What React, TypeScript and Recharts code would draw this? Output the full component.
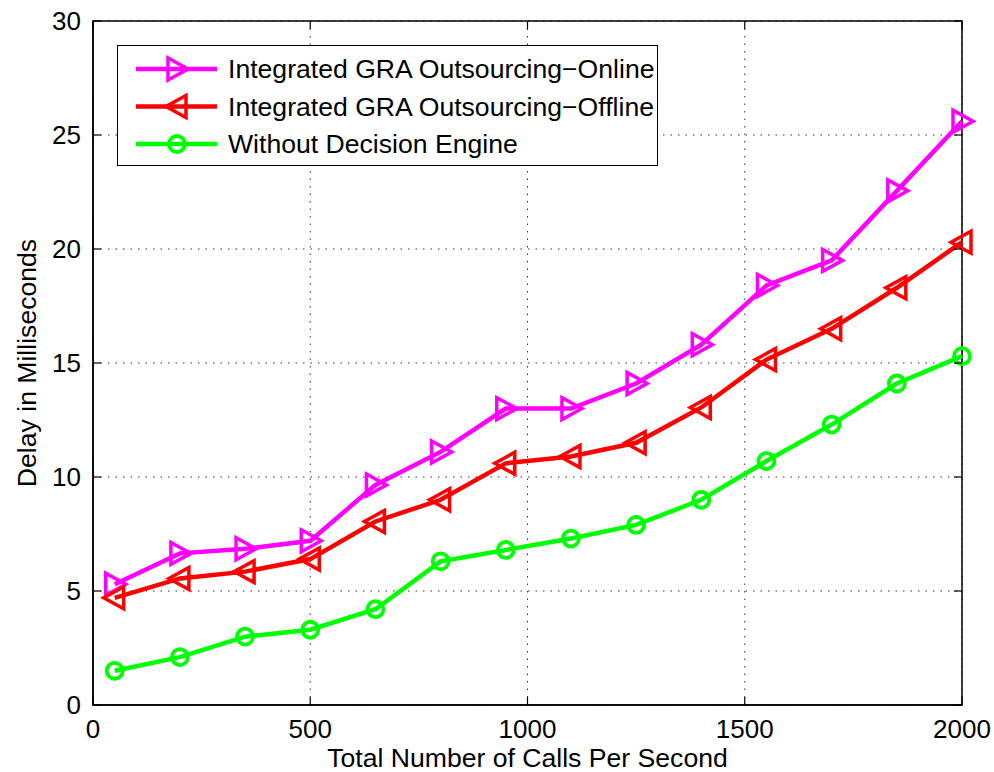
import React from 'react';
import {
  LineChart,
  Line,
  XAxis,
  YAxis,
  CartesianGrid,
  ReferenceArea,
} from 'recharts';

const calls = [50, 200, 350, 500, 650, 800, 950, 1100, 1250, 1400, 1550, 1700, 1850, 2000];
const online = [5.3, 6.65, 6.85, 7.2, 9.65, 11.1, 13.0, 13.0, 14.1, 15.8, 18.4, 19.5, 22.55, 25.6];
const offline = [4.7, 5.55, 5.85, 6.4, 8.05, 9.0, 10.6, 10.9, 11.5, 13.05, 15.15, 16.5, 18.3, 20.3];
const noEngine = [1.5, 2.1, 3.0, 3.3, 4.2, 6.3, 6.8, 7.3, 7.9, 9.0, 10.7, 12.3, 14.1, 15.3];

const xTicks = [0, 500, 1000, 1500, 2000];
const yTicks = [0, 5, 10, 15, 20, 25, 30];

const seriesNames = [
  'Integrated GRA Outsourcing\u2212Online',
  'Integrated GRA Outsourcing\u2212Offline',
  'Without Decision Engine',
];

const data = calls.map((c, i) => ({
  calls: c,
  online: online[i],
  offline: offline[i],
  noEngine: noEngine[i],
}));

const W = 994;
const H = 772;
const LEFT = 93;
const RIGHT = 962;
const TOP = 21;
const BOTTOM = 705;
const FONT = '"Liberation Sans", Arial, Helvetica, sans-serif';
const FS = 26;
const FS_TEXT = 26.6;

const MAGENTA = '#ff00ff';
const RED = '#ff0000';
const GREEN = '#00ff00';

type Shape = 'right' | 'left' | 'circle';

const Marker = ({ cx, cy, shape, color }: { cx: number; cy: number; shape: Shape; color: string }) => {
  if (shape === 'circle') {
    return <circle cx={cx} cy={cy} r={8} fill="none" stroke={color} strokeWidth={3.8} />;
  }
  const pts =
    shape === 'right'
      ? `${cx - 9},${cy - 11} ${cx - 9},${cy + 11} ${cx + 11},${cy}`
      : `${cx + 9},${cy - 11} ${cx + 9},${cy + 11} ${cx - 11},${cy}`;
  return <polygon points={pts} fill="none" stroke={color} strokeWidth={3.5} strokeLinejoin="miter" />;
};

const makeDot = (shape: Shape, color: string) => (props: any) => {
  const { cx, cy, index } = props;
  if (cx == null || cy == null) return <g key={index} />;
  return (
    <g key={index}>
      <Marker cx={cx} cy={cy} shape={shape} color={color} />
    </g>
  );
};

const XTick = (props: any) => {
  const { x, payload } = props;
  return (
    <g>
      <line x1={x} x2={x} y1={BOTTOM} y2={BOTTOM - 8} stroke="#000" strokeWidth={1.2} />
      <line x1={x} x2={x} y1={TOP} y2={TOP + 8} stroke="#000" strokeWidth={1.2} />
      <text x={x} y={738} textAnchor="middle" fontFamily={FONT} fontSize={FS} fill="#000">
        {payload.value}
      </text>
    </g>
  );
};

const YTick = (props: any) => {
  const { y, payload } = props;
  return (
    <g>
      <line x1={LEFT} x2={LEFT + 8} y1={y} y2={y} stroke="#000" strokeWidth={1.2} />
      <line x1={RIGHT} x2={RIGHT - 8} y1={y} y2={y} stroke="#000" strokeWidth={1.2} />
      <text x={81} y={y + 9} textAnchor="end" fontFamily={FONT} fontSize={FS} fill="#000">
        {payload.value}
      </text>
    </g>
  );
};

const legendItems: { name: string; shape: Shape; color: string }[] = [
  { name: seriesNames[0], shape: 'right', color: MAGENTA },
  { name: seriesNames[1], shape: 'left', color: RED },
  { name: seriesNames[2], shape: 'circle', color: GREEN },
];

const LegendBox = () => (
  <div
    style={{
      position: 'absolute',
      left: 117,
      top: 45,
      width: 539,
      height: 119,
      border: '1.5px solid #000',
      background: '#fff',
    }}
  >
    <svg width={539} height={119} style={{ display: 'block' }}>
      {legendItems.map((it, i) => {
        const cy = 23 + i * 37.5;
        return (
          <g key={it.name}>
            <line x1={18} x2={99} y1={cy} y2={cy} stroke={it.color} strokeWidth={4.5} />
            <Marker cx={59} cy={cy} shape={it.shape} color={it.color} />
            <text x={110} y={cy + 9} fontFamily={FONT} fontSize={FS_TEXT} fill="#000">
              {it.name}
            </text>
          </g>
        );
      })}
    </svg>
  </div>
);

export default function App() {
  return (
    <div style={{ position: 'relative', width: W, height: H, background: '#fff' }}>
      <style>{'body{margin:0}'}</style>
      <LineChart
        width={W}
        height={H}
        data={data}
        margin={{ top: TOP, right: W - RIGHT, bottom: 0, left: 0 }}
      >
        <CartesianGrid
          stroke="#333"
          strokeDasharray="1.5 6"
          strokeWidth={1}
          horizontalValues={yTicks}
          verticalValues={xTicks}
        />
        <ReferenceArea
          x1={0}
          x2={2000}
          y1={0}
          y2={30}
          fill="none"
          stroke="#000"
          strokeWidth={1.5}
          ifOverflow="visible"
        />
        <XAxis
          dataKey="calls"
          type="number"
          domain={[0, 2000]}
          ticks={xTicks}
          height={H - BOTTOM}
          tickLine={false}
          tickSize={0}
          tickMargin={0}
          axisLine={{ stroke: '#000', strokeWidth: 1.5 }}
          tick={<XTick />}
          label={{
            value: 'Total Number of Calls Per Second',
            position: 'insideBottom',
            offset: 5,
            fontFamily: FONT,
            fontSize: FS_TEXT,
            fill: '#000',
          }}
        />
        <YAxis
          type="number"
          domain={[0, 30]}
          ticks={yTicks}
          width={LEFT}
          tickLine={false}
          tickSize={0}
          tickMargin={0}
          axisLine={{ stroke: '#000', strokeWidth: 1.5 }}
          tick={<YTick />}
          label={(props: any) => {
            const vb = props.viewBox || { y: TOP, height: BOTTOM - TOP };
            const cy = vb.y + vb.height / 2;
            return (
              <text
                x={36}
                y={cy}
                transform={`rotate(-90, 36, ${cy})`}
                textAnchor="middle"
                fontFamily={FONT}
                fontSize={FS_TEXT}
                fill="#000"
              >
                Delay in Milliseconds
              </text>
            );
          }}
        />
        <Line
          dataKey="online"
          name={seriesNames[0]}
          stroke={MAGENTA}
          strokeWidth={4.5}
          dot={makeDot('right', MAGENTA)}
          activeDot={false}
          isAnimationActive={false}
        />
        <Line
          dataKey="offline"
          name={seriesNames[1]}
          stroke={RED}
          strokeWidth={4.5}
          dot={makeDot('left', RED)}
          activeDot={false}
          isAnimationActive={false}
        />
        <Line
          dataKey="noEngine"
          name={seriesNames[2]}
          stroke={GREEN}
          strokeWidth={4.5}
          dot={makeDot('circle', GREEN)}
          activeDot={false}
          isAnimationActive={false}
        />
      </LineChart>
      <LegendBox />
    </div>
  );
}
